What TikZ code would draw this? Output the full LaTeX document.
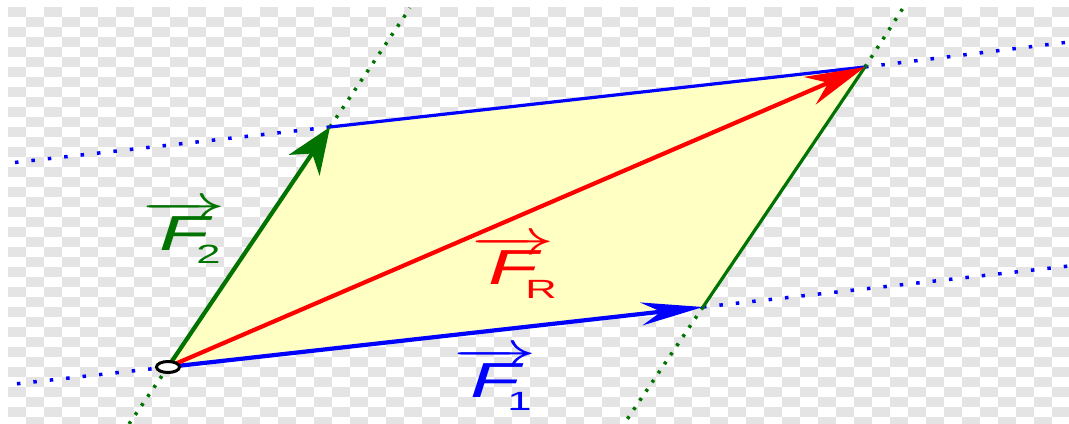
\documentclass[tikz,border=0pt]{standalone}
\usepackage{fontspec}
\setmainfont{Liberation Sans}
\usepackage{tikz}
\usetikzlibrary{arrows.meta, shapes.geometric}
\definecolor{vblue}{RGB}{0,0,255}
\definecolor{vgreen}{RGB}{0,115,0}
\definecolor{vred}{RGB}{255,0,0}
\definecolor{pfill}{RGB}{255,255,196}
\definecolor{checker}{RGB}{228,228,228}
\tikzstyle{force} = [line width=0.42mm]
\tikzstyle{side} = [line width=0.32mm]
\tikzstyle{blueguide} = [vblue, line width=0.35mm, dash pattern=on 0.35mm off 1.3mm]
\tikzstyle{greenguide} = [vgreen, line width=0.35mm, dash pattern=on 0.3mm off 0.8mm]
\tikzstyle{flabel} = [font=\fontsize{14}{16}\selectfont, xscale=1.65, inner sep=0pt, anchor=base west]
\newcommand{\forcename}[1]{$\overrightarrow{\textit{F}}$\kern-0.36em\raisebox{-1.35mm}{\fontsize{7.5}{8}\selectfont #1}}

\begin{document}
\begin{tikzpicture}[x=0.1mm, y=-0.1mm]
  \useasboundingbox (0,0) rectangle (1069,424);
  % checker background
  \foreach \i in {0,...,59} {
    \foreach \j in {0,...,41} {
      \pgfmathtruncatemacro{\cellodd}{mod(\i+\j,2)}
      \ifnum\cellodd=0 \fill[checker] (8+18*\i,7+10*\j) rectangle ++(18,10); \fi
    }
  }

  % Corner points
  \coordinate (O) at (168,367);
  \coordinate (A) at (703,307);
  \coordinate (B) at (330,127);
  \coordinate (C) at (865,67);

  % Free ends of the guide lines
  \coordinate (oaLeft) at (15,384);
  \coordinate (oaRight) at (1069,266);
  \coordinate (bcLeft) at (10,163);
  \coordinate (bcRight) at (1069,42);
  \coordinate (obLow) at (129,424);
  \coordinate (obHigh) at (410,8);
  \coordinate (acLow) at (624,424);
  \coordinate (acHigh) at (905,5);

  % Parallelogram
  \fill[pfill] (O) -- (A) -- (C) -- (B) -- cycle;

  % Guides
  \draw[blueguide] (O) -- (oaLeft);
  \draw[blueguide] (A) -- (oaRight);
  \draw[blueguide] (B) -- (bcLeft);
  \draw[blueguide] (C) -- (bcRight);
  \draw[greenguide] (O) -- (obLow);
  \draw[greenguide] (B) -- (obHigh);
  \draw[greenguide] (A) -- (acLow);
  \draw[greenguide] (C) -- (acHigh);

  % Sides
  \draw[side, vblue] (B) -- (C);
  \draw[side, vgreen] (A) -- (C);

  % Forces
  \draw[force, vblue, -{Stealth[length=6.2mm, width=2.3mm, inset=2mm]}] (O) -- (A);
  \draw[force, vgreen, -{Stealth[length=4.6mm, width=3.7mm, inset=1.4mm]}] (O) -- (B);
  \draw[force, vred, -{Stealth[length=6mm, width=3mm, inset=2mm]}] (O) -- (C);

  % Origin
  \node (origin) [ellipse, draw, line width=0.3mm, fill=white, minimum width=2.3mm, minimum height=1.1mm, inner sep=0pt] at (O) {};

  % Labels
  \node (lblF2) [flabel, text=vgreen] at (141,250) {\forcename{2}};
  \node (lblFR) [flabel, text=vred] at (470,285) {\forcename{R}};
  \node (lblF1) [flabel, text=vblue] at (452,397) {\forcename{1}};
\end{tikzpicture}
\end{document}
